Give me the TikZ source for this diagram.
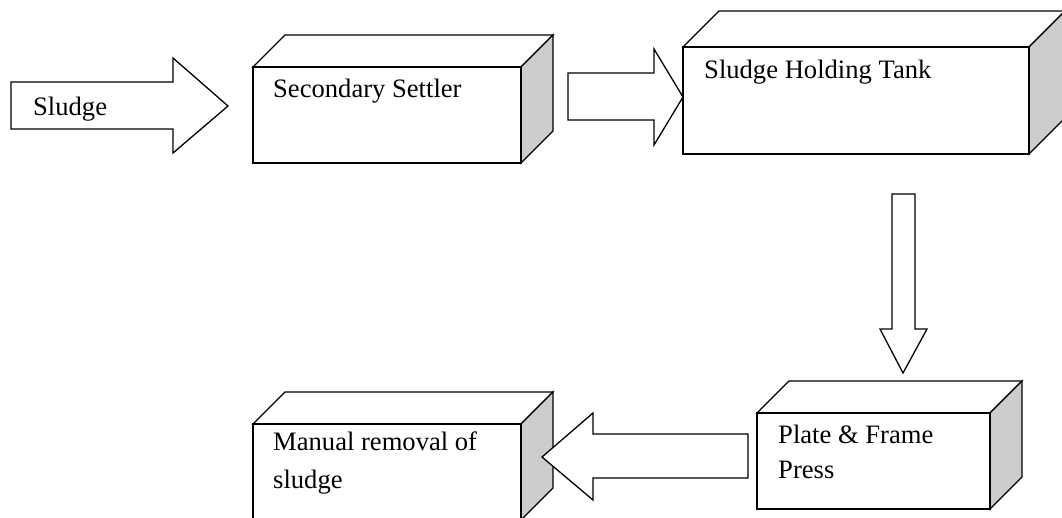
\documentclass[tikz,border=0pt]{standalone}
\usepackage{fontspec}
\setmainfont{Liberation Serif}
\definecolor{sidegray}{HTML}{CCCCCC}
\tikzset{
  face/.style={draw=black, line width=1.3pt, line join=miter, fill=white},
  sideface/.style={face, fill=sidegray},
  frontface/.style={face, inner sep=0pt, outer sep=0pt, anchor=north west},
  blockarrow/.style={draw=black, line width=1.3pt, line join=miter, fill=white},
  lbl/.style={inner sep=0pt, anchor=base west, font=\fontsize{26.6}{32}\selectfont},
}
% name, x1, y1, x2, y2, depth
\newcommand\cubebox[6]{%
  \draw[face] (#2,#3) -- (#2+#6,#3-#6) -- (#4+#6,#3-#6) -- (#4,#3) -- cycle;
  \draw[sideface] (#4,#3) -- (#4+#6,#3-#6) -- (#4+#6,#5-#6) -- (#4,#5) -- cycle;
  \node[frontface, minimum width={(#4-#2)*1pt}, minimum height={(#5-#3)*1pt}] (#1) at (#2,#3) {};
}
\begin{document}
\begin{tikzpicture}[x=1pt, y=-1pt]
  \useasboundingbox (0,0) rectangle (1062,517);
  \clip (0,0) rectangle (1062,517);
  % boxes
  \cubebox{settler}{253}{67}{521}{163}{32}
  \cubebox{holding}{683}{47}{1029}{154}{36}
  \cubebox{press}{757}{413}{990}{509}{32}
  \cubebox{manual}{253}{424}{521}{520}{32}
  % block arrows
  \draw[blockarrow] (11,82) -- (173,82) -- (173,58) -- (228,106) -- (173,153) -- (173,129) -- (11,129) -- cycle;
  \draw[blockarrow] (568,73) -- (654,73) -- (654,49) -- (683,97) -- (654,145) -- (654,120) -- (568,120) -- cycle;
  \draw[blockarrow] (892,194) -- (915,194) -- (915,329) -- (927,329) -- (903,373) -- (880,329) -- (892,329) -- cycle;
  \draw[blockarrow] (748,434) -- (593,434) -- (593,413) -- (542,457) -- (593,500) -- (593,478) -- (748,478) -- cycle;
  % labels
  \node[lbl] (tsludge) at (33,115) {Sludge};
  \node[lbl] (tsettler) at (273,97) {Secondary Settler};
  \node[lbl] (tholding) at (704,78) {Sludge Holding Tank};
  \node[lbl] (tpress1) at (778,443) {Plate \& Frame};
  \node[lbl] (tpress2) at (778,478) {Press};
  \node[lbl] (tmanual1) at (273,450) {Manual removal of};
  \node[lbl] (tmanual2) at (273,488) {sludge};
\end{tikzpicture}
\end{document}
